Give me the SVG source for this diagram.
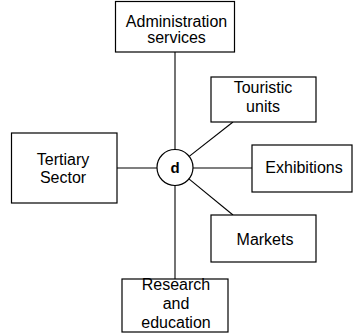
<svg xmlns="http://www.w3.org/2000/svg" width="353" height="333" viewBox="0 0 353 333">
<style>
.box{fill:#fff;stroke:#000;stroke-width:1.2}
.t{font-family:"Liberation Sans",Arial,sans-serif;font-size:16px;text-anchor:middle;fill:#000}
.c line{stroke:#000;stroke-width:1.1}
</style>
<rect width="353" height="333" fill="#fff"/>
<g class="c" id="connectors">
<line x1="175" y1="52" x2="175" y2="149.5"/>
<line x1="175" y1="185.5" x2="175" y2="279"/>
<line x1="117" y1="168" x2="157" y2="168"/>
<line x1="193" y1="168" x2="252" y2="168"/>
<line x1="233" y1="122" x2="189.2" y2="156.4"/>
<line x1="233" y1="215" x2="188.9" y2="178.9"/>
</g>
<g id="admin"><rect class="box" x="115.5" y="1.5" width="119" height="50.5"/><text class="t" x="176.5" y="27">Administration</text><text class="t" x="176.5" y="43">services</text></g>
<g id="touristic"><rect class="box" x="211" y="77" width="105" height="45"/><text class="t" x="263" y="93">Touristic</text><text class="t" x="263" y="112">units</text></g>
<g id="exhibitions"><rect class="box" x="252" y="145" width="100" height="47"/><text class="t" x="304" y="173">Exhibitions</text></g>
<g id="markets"><rect class="box" x="211" y="215" width="105" height="47"/><text class="t" x="265" y="245">Markets</text></g>
<g id="tertiary"><rect class="box" x="11.5" y="133" width="105.5" height="70"/><text class="t" x="63" y="165">Tertiary</text><text class="t" x="63" y="183">Sector</text></g>
<g id="research"><rect class="box" x="122" y="279" width="106" height="53"/><text class="t" x="176" y="290">Research</text><text class="t" x="176" y="309">and</text><text class="t" x="176" y="328">education</text></g>
<g id="center"><circle cx="175" cy="167.5" r="18" fill="#fff" stroke="#000" stroke-width="1.2"/><text class="t" x="175" y="172.5" style="font-weight:bold;font-size:15px">d</text></g>
</svg>
